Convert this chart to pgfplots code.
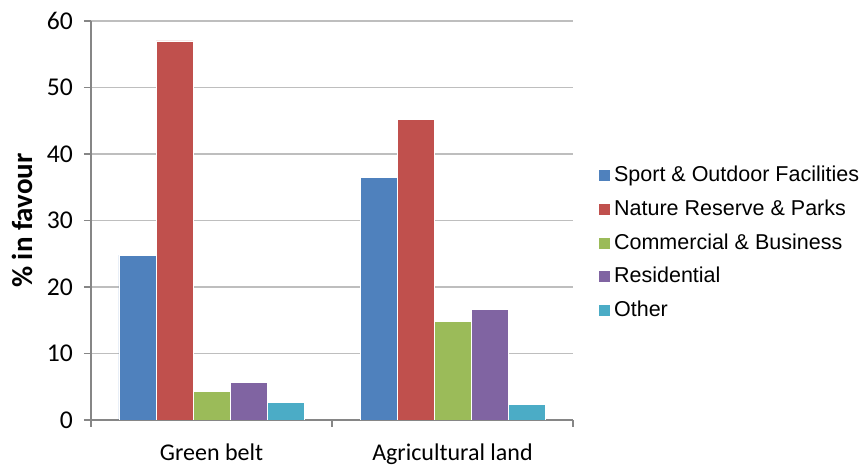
\documentclass[border=0pt]{standalone}
\usepackage{fontspec}
\setmainfont{Carlito}
\newfontfamily\arialfont{Liberation Sans}
\usepackage{pgfplots}
\pgfplotsset{compat=1.18}

\definecolor{cSport}{HTML}{4F81BD}
\definecolor{cNature}{HTML}{C0504D}
\definecolor{cComm}{HTML}{9BBB59}
\definecolor{cRes}{HTML}{8064A2}
\definecolor{cOther}{HTML}{4BACC6}
\definecolor{axisgray}{HTML}{868686}
\definecolor{gridgray}{HTML}{BEBEBE}

\begin{document}
\begin{tikzpicture}
\begin{axis}[
  name=ax,
  width=241pt, height=199.5pt, scale only axis,
  ybar=0pt, bar width=18.5pt,
  xmin=-0.5, xmax=1.5, ymin=0, ymax=60,
  axis x line*=bottom, axis y line*=left,
  axis line style={draw=axisgray, line width=0.6pt},
  tick align=outside, major tick length=3.5pt,
  tick style={draw=axisgray, line width=0.6pt},
  xtick={-0.5,0.5,1.5}, xticklabels={},
  extra x ticks={0,1},
  extra x tick labels={Green belt, Agricultural land},
  extra x tick style={major tick length=0pt, grid=none,
    xticklabel style={yshift=-8.5pt, font=\fontsize{12}{14}\selectfont}},
  ytick={0,10,...,60},
  ymajorgrids, grid style={draw=gridgray, line width=0.6pt},
  tick label style={font=\fontsize{12.8}{15}\selectfont},
  yticklabel style={xshift=-2pt},
  /pgf/number format/assume math mode=true,
  ylabel={\bfseries\% in favour},
  ylabel style={font=\fontsize{14.5}{16}\selectfont, at={(axis description cs:-0.143,0.5)}, anchor=center},
  legend style={at={(axis description cs:1.05,0.444)}, anchor=west, draw=none, inner sep=0pt,
    font=\arialfont\fontsize{10.75}{12}\selectfont, row sep=3.6pt},
  legend cell align=left,
  legend image code/.code={\fill[#1] (0pt,-3pt) rectangle (6pt,3pt);},
]
\addplot[fill=cSport, draw=white, line width=0.3pt] coordinates {(0,24.8) (1,36.5)};
\addplot[fill=cNature, draw=white, line width=0.3pt] coordinates {(0,57.0) (1,45.2)};
\addplot[fill=cComm, draw=white, line width=0.3pt] coordinates {(0,4.3) (1,14.8)};
\addplot[fill=cRes, draw=white, line width=0.3pt] coordinates {(0,5.6) (1,16.6)};
\addplot[fill=cOther, draw=white, line width=0.3pt] coordinates {(0,2.7) (1,2.4)};
\legend{Sport \& Outdoor Facilities, Nature Reserve \& Parks, Commercial \& Business, Residential, Other}
\end{axis}
\pgfresetboundingbox
\path[use as bounding box] ([xshift=-45.5pt,yshift=-24pt]ax.south west) rectangle ([xshift=144pt,yshift=10.5pt]ax.north east);
\end{tikzpicture}
\end{document}
